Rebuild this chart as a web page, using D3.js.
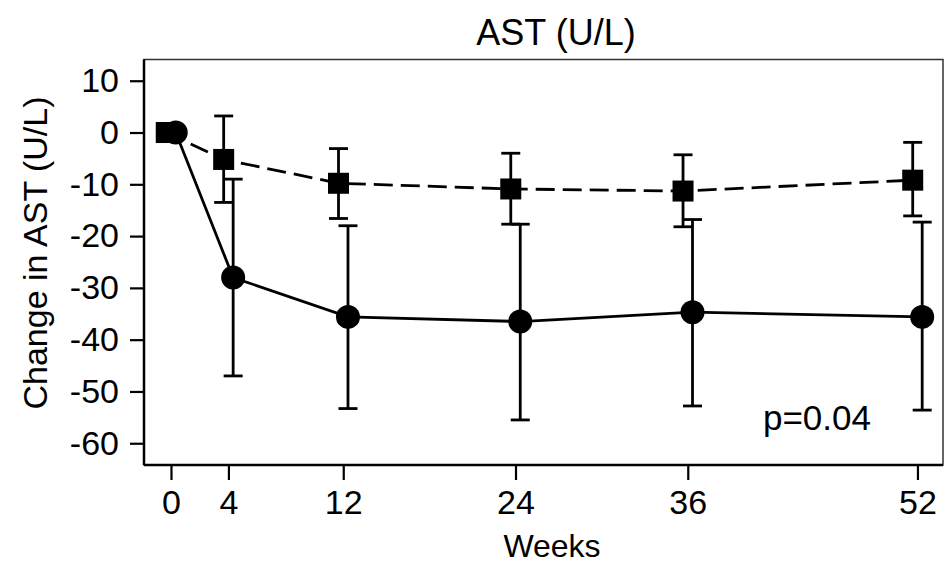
<!DOCTYPE html>
<html>
<head>
<meta charset="utf-8">
<script src="https://cdn.jsdelivr.net/npm/d3@7"></script>
<style>
  html, body { margin: 0; padding: 0; background: #fff; }
  svg { display: block; }
  text { font-family: "Liberation Sans", Arial, sans-serif; fill: #000; }
</style>
</head>
<body>
<svg id="chart" width="944" height="564"></svg>
<script>
// ---- data ----
const weeks = [0, 4, 12, 24, 36, 52];
const xTickLabels = ["0", "4", "12", "24", "36", "52"];
const yTickValues = [10, 0, -10, -20, -30, -40, -50, -60];

// dashed series (square markers)
const squareMean  = [0, -5.2, -9.8, -10.9, -11.3, -9.2];
const squareUpper = [0,  3.2, -3.1,  -4.0,  -4.3, -1.9];
const squareLower = [0, -13.5, -16.6, -17.7, -18.2, -16.1];

// solid series (circle markers)
const circleMean  = [0, -28.0, -35.6, -36.5, -34.7, -35.6];
const circleUpper = [0,  -9.0, -18.0, -17.7, -16.8, -17.3];
const circleLower = [0, -47.0, -53.3, -55.5, -52.8, -53.6];

const titleText = "AST (U/L)";
const xTitle = "Weeks";
const yTitle = "Change in AST (U/L)";
const annotation = "p=0.04";

// ---- layout ----
const svg = d3.select("#chart");
const plot = { left: 144, right: 943, top: 59.5, bottom: 465 };
const x = d3.scaleLinear().domain([-1.88, 53.78]).range([plot.left, plot.right]);
const y = d3.scaleLinear().domain([-64.2, 14.1]).range([plot.bottom, plot.top]);
const dodge = 0.33;
const FS = 34;
const FONT = "Liberation Sans, Arial, sans-serif";

// frame (thin top/right)
svg.append("rect")
  .attr("x", plot.left).attr("y", plot.top)
  .attr("width", plot.right - plot.left).attr("height", plot.bottom - plot.top)
  .attr("fill", "none").attr("stroke", "#333").attr("stroke-width", 1.5);

// axes
const yAxis = d3.axisLeft(y).tickValues(yTickValues).tickSize(14).tickPadding(11).tickFormat(d => String(d));
const gy = svg.append("g").attr("transform", `translate(${plot.left},0)`).call(yAxis);
gy.select(".domain").attr("stroke", "#000").attr("stroke-width", 2.5)
  .attr("d", `M0,${plot.top}V${plot.bottom}`);
gy.selectAll(".tick line").attr("stroke", "#000").attr("stroke-width", 2.2);
gy.selectAll(".tick text").attr("font-size", FS).attr("font-family", FONT).attr("fill", "#000");

const xAxis = d3.axisBottom(x).tickValues(weeks).tickSize(15).tickPadding(10)
  .tickFormat((d, i) => xTickLabels[i]);
const gx = svg.append("g").attr("transform", `translate(0,${plot.bottom})`).call(xAxis);
gx.select(".domain").attr("stroke", "#000").attr("stroke-width", 2.5)
  .attr("d", `M${plot.left},0H${plot.right}`);
gx.selectAll(".tick line").attr("stroke", "#000").attr("stroke-width", 2.2);
gx.selectAll(".tick text").attr("font-size", FS).attr("font-family", FONT).attr("fill", "#000");

// titles
svg.append("text").attr("x", 556).attr("y", 45)
  .attr("text-anchor", "middle").attr("font-size", FS + 2).text(titleText);
svg.append("text").attr("x", 552).attr("y", 557)
  .attr("text-anchor", "middle").attr("font-size", FS - 2).text(xTitle);
svg.append("text").attr("transform", `translate(47,253) rotate(-90)`)
  .attr("text-anchor", "middle").attr("font-size", FS).text(yTitle);
svg.append("text").attr("x", 871).attr("y", 430)
  .attr("text-anchor", "end").attr("font-size", 35).text(annotation);

// ---- series ----
function series(mean, upper, lower, off, dashed) {
  const pts = weeks.map((w, i) => ({ w: w + off, m: mean[i], u: upper[i], l: lower[i] }));
  const line = d3.line().x(d => x(d.w)).y(d => y(d.m));
  svg.append("path").datum(pts).attr("d", line)
    .attr("fill", "none").attr("stroke", "#000").attr("stroke-width", 2.8)
    .attr("stroke-dasharray", dashed ? "19,8" : null);
  const eb = svg.append("g").attr("stroke", "#000").attr("stroke-width", 2.8);
  const withBars = pts.filter(d => d.u !== d.l);
  eb.selectAll("line.v").data(withBars).join("line")
    .attr("x1", d => x(d.w)).attr("x2", d => x(d.w))
    .attr("y1", d => y(d.u)).attr("y2", d => y(d.l));
  ["u", "l"].forEach(k => {
    eb.selectAll("line.c" + k).data(withBars).join("line")
      .attr("x1", d => x(d.w) - 9.5).attr("x2", d => x(d.w) + 9.5)
      .attr("y1", d => y(d[k])).attr("y2", d => y(d[k]));
  });
  return pts;
}

const sq = series(squareMean, squareUpper, squareLower, -dodge, true);
const ci = series(circleMean, circleUpper, circleLower, dodge, false);

svg.append("g").selectAll("rect").data(sq).join("rect")
  .attr("x", d => x(d.w) - 10.5).attr("y", d => y(d.m) - 10.5)
  .attr("width", 21).attr("height", 21).attr("fill", "#000");
svg.append("g").selectAll("circle").data(ci).join("circle")
  .attr("cx", d => x(d.w)).attr("cy", d => y(d.m)).attr("r", 12).attr("fill", "#000");
</script>
</body>
</html>
